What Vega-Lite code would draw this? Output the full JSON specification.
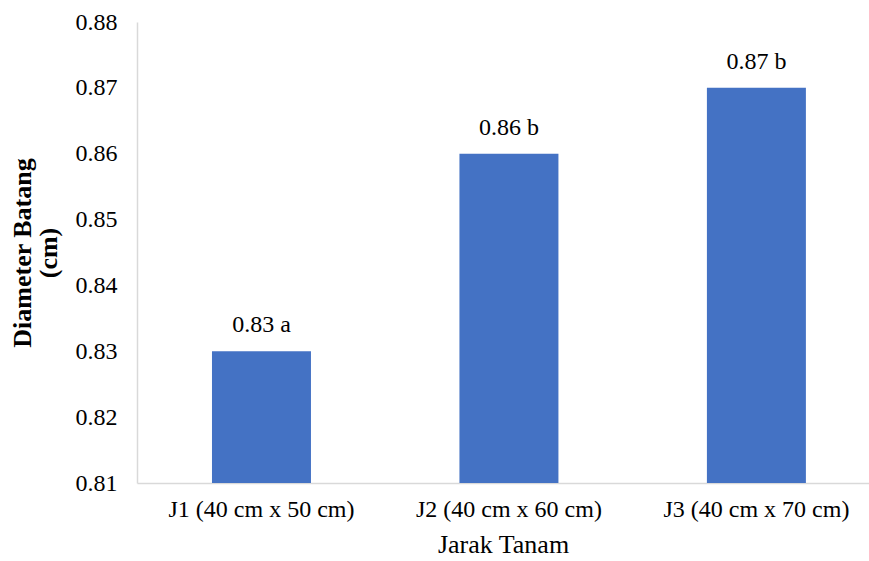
{
  "$schema": "https://vega.github.io/schema/vega-lite/v6.json",
  "width": 732,
  "height": 461,
  "autosize": {"type": "none"},
  "padding": {"left": 137, "top": 22, "right": 0, "bottom": 78},
  "background": "white",
  "config": {
    "view": {"stroke": null},
    "font": "Times New Roman, Liberation Serif, serif",
    "axis": {"grid": false, "ticks": false, "domainColor": "#d9d9d9", "domainWidth": 1.5, "labelFont": "Times New Roman, Liberation Serif, serif", "titleFont": "Times New Roman, Liberation Serif, serif", "labelColor": "#000000", "titleColor": "#000000", "labelFontSize": 24, "titleFontSize": 26, "labelLimit": 0}
  },
  "data": {
    "values": [
      {"jarak": "J1 (40 cm x 50 cm)", "diameter": 0.83, "label": "0.83 a"},
      {"jarak": "J2 (40 cm x 60 cm)", "diameter": 0.86, "label": "0.86 b"},
      {"jarak": "J3 (40 cm x 70 cm)", "diameter": 0.87, "label": "0.87 b"}
    ]
  },
  "encoding": {
    "x": {
      "field": "jarak", "type": "nominal", "sort": null,
      "scale": {"paddingInner": 0.6, "paddingOuter": 0.279, "align": 0.543},
      "axis": {"title": "Jarak Tanam", "labelAngle": 0, "labelPadding": 14, "labelLimit": 0, "labelOverlap": false, "titlePadding": 10, "titleFontWeight": "normal"}
    },
    "y": {
      "field": "diameter", "type": "quantitative",
      "scale": {"domain": [0.81, 0.88], "zero": false, "nice": false},
      "axis": {"title": ["Diameter Batang", "(cm)"], "values": [0.81, 0.82, 0.83, 0.84, 0.85, 0.86, 0.87, 0.88], "format": ".2f", "labelPadding": 20, "titlePadding": 14, "titleFontWeight": "bold", "titleLineHeight": 26}
    }
  },
  "layer": [
    {"mark": {"type": "bar", "color": "#4472C4", "clip": true}},
    {"mark": {"type": "text", "fontSize": 24, "dy": -19, "baseline": "alphabetic", "color": "#000000"}, "encoding": {"text": {"field": "label"}}}
  ]
}
